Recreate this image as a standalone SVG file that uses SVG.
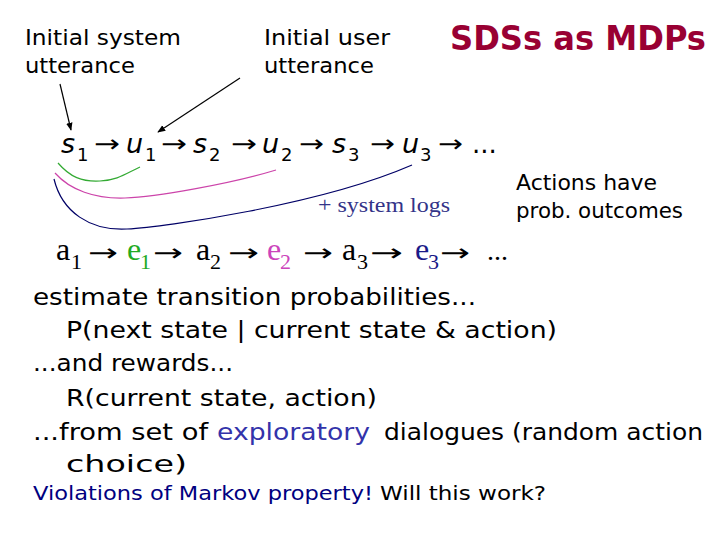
<svg xmlns="http://www.w3.org/2000/svg" width="720" height="540" viewBox="0 0 720 540">
<defs>
<style>
.t{font-family:"DejaVu Sans","Liberation Sans",sans-serif;fill:#000}
.l{font-size:21px}
.b{font-size:23px}
.m{font-size:27px;font-style:italic}
.ms{font-size:18px}
.sr{font-family:"Liberation Serif","DejaVu Serif",serif}
.ar{font-family:"DejaVu Sans",sans-serif;font-size:24px}
.c{fill:none;stroke-width:1.2}
</style>
<marker id="ah" viewBox="0 0 10 10" refX="9" refY="5" markerWidth="8" markerHeight="8" orient="auto" markerUnits="userSpaceOnUse">
<path d="M0,1 L10,5 L0,9 z" fill="#000"/>
</marker>
</defs>
<rect width="720" height="540" fill="#fff"/>

<g id="label-system">
<text class="t l" x="25" y="45" textLength="156" lengthAdjust="spacingAndGlyphs">Initial system</text>
<text class="t l" x="25" y="73" textLength="110" lengthAdjust="spacingAndGlyphs">utterance</text>
</g>
<g id="label-user">
<text class="t l" x="264" y="45" textLength="126" lengthAdjust="spacingAndGlyphs">Initial user</text>
<text class="t l" x="264" y="73" textLength="110" lengthAdjust="spacingAndGlyphs">utterance</text>
</g>
<g id="title">
<text class="t" x="450" y="50" font-size="34" font-weight="bold" fill="#990033" style="fill:#990033" textLength="256" lengthAdjust="spacingAndGlyphs">SDSs as MDPs</text>
</g>

<g id="state-sequence">
<text class="t m" x="61" y="153">s</text><text class="t ms" x="77" y="161">1</text>
<text class="ar" x="94" y="152" textLength="26" lengthAdjust="spacingAndGlyphs">→</text>
<text class="t m" x="126" y="153">u</text><text class="t ms" x="145" y="161">1</text>
<text class="ar" x="161" y="152" textLength="26" lengthAdjust="spacingAndGlyphs">→</text>
<text class="t m" x="193" y="153">s</text><text class="t ms" x="209" y="161">2</text>
<text class="ar" x="231" y="152" textLength="26" lengthAdjust="spacingAndGlyphs">→</text>
<text class="t m" x="262" y="153">u</text><text class="t ms" x="281" y="161">2</text>
<text class="ar" x="299" y="152" textLength="25" lengthAdjust="spacingAndGlyphs">→</text>
<text class="t m" x="332" y="153">s</text><text class="t ms" x="348" y="161">3</text>
<text class="ar" x="370" y="152" textLength="25" lengthAdjust="spacingAndGlyphs">→</text>
<text class="t m" x="402" y="153">u</text><text class="t ms" x="420" y="161">3</text>
<text class="ar" x="438" y="152" textLength="25" lengthAdjust="spacingAndGlyphs">→</text>
<text class="t" x="472" y="153" font-size="26">...</text>
</g>

<g id="action-sequence">
<text class="sr" x="56" y="260" font-size="32">a</text><text class="sr" x="71" y="269" font-size="22">1</text>
<text class="ar" x="88" y="261" textLength="30" lengthAdjust="spacingAndGlyphs">→</text>
<text class="sr" x="127" y="260" font-size="32" fill="#22aa22">e</text><text class="sr" x="140" y="269" font-size="22" fill="#22aa22">1</text>
<text class="ar" x="153" y="261" textLength="30" lengthAdjust="spacingAndGlyphs">→</text>
<text class="sr" x="196" y="260" font-size="32">a</text><text class="sr" x="210" y="269" font-size="22">2</text>
<text class="ar" x="228" y="261" textLength="31" lengthAdjust="spacingAndGlyphs">→</text>
<text class="sr" x="267" y="260" font-size="32" fill="#cc44bb">e</text><text class="sr" x="280" y="269" font-size="22" fill="#cc44bb">2</text>
<text class="ar" x="303" y="261" textLength="30" lengthAdjust="spacingAndGlyphs">→</text>
<text class="sr" x="342" y="260" font-size="32">a</text><text class="sr" x="357" y="269" font-size="22">3</text>
<text class="ar" x="370" y="261" textLength="33" lengthAdjust="spacingAndGlyphs">→</text>
<text class="sr" x="415" y="260" font-size="32" fill="#1a1a88">e</text><text class="sr" x="428" y="269" font-size="22" fill="#1a1a88">3</text>
<text class="ar" x="440" y="261" textLength="30" lengthAdjust="spacingAndGlyphs">→</text>
<text class="sr" x="487" y="260" font-size="28">...</text>
</g>

<g id="connectors">
<line x1="60" y1="84" x2="71" y2="130" stroke="#000" stroke-width="1.2" marker-end="url(#ah)"/>
<line x1="240" y1="78" x2="158" y2="132" stroke="#000" stroke-width="1.2" marker-end="url(#ah)"/>
<path class="c" stroke="#33aa33" d="M58,163 C70,177 82,182 100,181 S125,174 140,167"/>
<path class="c" stroke="#cc44aa" d="M55,173 C70,190 95,199 125,198 S230,184 276,170"/>
<path class="c" stroke="#000066" d="M54,179 C62,212 90,231 127,229 S320,205 412,165"/>
</g>

<g id="system-logs">
<text class="sr" x="318" y="212" font-size="22" fill="#333388" textLength="132" lengthAdjust="spacingAndGlyphs">+ system logs</text>
</g>
<g id="actions-note">
<text class="t l" x="516" y="190" textLength="141" lengthAdjust="spacingAndGlyphs">Actions have</text>
<text class="t l" x="516" y="218" textLength="167" lengthAdjust="spacingAndGlyphs">prob. outcomes</text>
</g>

<g id="body">
<text class="t b" x="33" y="305" textLength="443" lengthAdjust="spacingAndGlyphs">estimate transition probabilities...</text>
<text class="t b" x="66" y="338" textLength="491" lengthAdjust="spacingAndGlyphs">P(next state | current state &amp; action)</text>
<text class="t b" x="33" y="371" textLength="200" lengthAdjust="spacingAndGlyphs">...and rewards...</text>
<text class="t b" x="66" y="406" textLength="311" lengthAdjust="spacingAndGlyphs">R(current state, action)</text>
<text class="t b" x="33" y="440" textLength="175" lengthAdjust="spacingAndGlyphs">...from set of</text>
<text class="t b" x="217" y="440" fill="#3333aa" style="fill:#3333aa" textLength="153" lengthAdjust="spacingAndGlyphs">exploratory</text>
<text class="t b" x="384" y="440" textLength="319" lengthAdjust="spacingAndGlyphs">dialogues (random action</text>
<text class="t b" x="66" y="472" textLength="121" lengthAdjust="spacingAndGlyphs">choice)</text>
<text class="t" x="33" y="500" font-size="20" fill="#000080" style="fill:#000080" textLength="340" lengthAdjust="spacingAndGlyphs">Violations of Markov property!</text>
<text class="t" x="380" y="500" font-size="20" textLength="166" lengthAdjust="spacingAndGlyphs">Will this work?</text>
</g>
</svg>
